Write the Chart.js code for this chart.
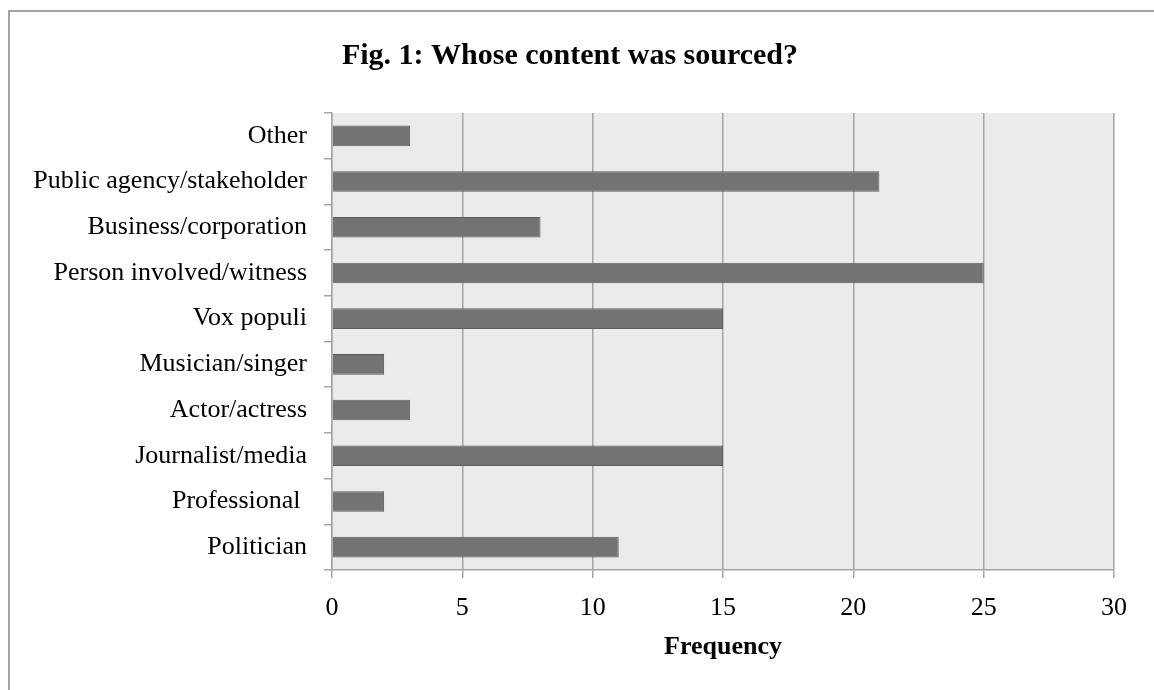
<!DOCTYPE html>
<html>
<head>
<meta charset="utf-8">
<script src="https://cdn.jsdelivr.net/npm/chart.js@4/dist/chart.umd.min.js"></script>
<style>
  html, body { margin: 0; padding: 0; background: #ffffff; overflow: hidden; }
  #wrap { position: relative; width: 1154px; height: 690px; }
  #frame {
    position: absolute; left: 8px; top: 10px; width: 1200px; height: 720px;
    border-top: 2px solid #a3a3a3; border-left: 2px solid #a3a3a3;
    pointer-events: none;
  }
  canvas { position: absolute; left: 0; top: 0; }
</style>
</head>
<body>
<div id="wrap">
  <canvas id="chart" width="1154" height="690"></canvas>
  <div id="frame"></div>
</div>
<script>
// Source categories, listed top to bottom
const categories = [
  'Other',
  'Public agency/stakeholder',
  'Business/corporation',
  'Person involved/witness',
  'Vox populi',
  'Musician/singer',
  'Actor/actress',
  'Journalist/media',
  'Professional ',
  'Politician'
];
// Frequency of sourced content per category
const frequencies = [3, 21, 8, 25, 15, 2, 3, 15, 2, 11];
// Frequency axis ticks
const xTicks = [0, 5, 10, 15, 20, 25, 30];

const serif = 'Liberation Serif';
const axisGrey = '#a5a5a5';

// Shades the plotting area behind the bars
const plotBackground = {
  id: 'plotBackground',
  beforeDraw(chart) {
    const { ctx, chartArea: a } = chart;
    ctx.save();
    ctx.fillStyle = '#ebebeb';
    ctx.fillRect(a.left, a.top, a.right - a.left, a.bottom - a.top);
    ctx.restore();
  }
};

new Chart(document.getElementById('chart'), {
  type: 'bar',
  data: {
    labels: categories,
    datasets: [{
      data: frequencies,
      backgroundColor: '#737373',
      borderColor: '#5c5c5c',
      borderWidth: 1,
      categoryPercentage: 1,
      barPercentage: 0.45
    }]
  },
  options: {
    indexAxis: 'y',
    responsive: false,
    animation: false,
    devicePixelRatio: 1,
    layout: { padding: { left: 26, right: 40, top: 0, bottom: 27 } },
    plugins: {
      legend: { display: false },
      tooltip: { enabled: false },
      title: {
        display: true,
        text: 'Fig. 1: Whose content was sourced?',
        color: '#000000',
        font: { family: serif, size: 30, weight: 'bold', lineHeight: 1.2 },
        padding: { top: 38, bottom: 39 }
      }
    },
    scales: {
      x: {
        min: 0,
        max: 30,
        afterBuildTicks(scale) { scale.ticks = xTicks.map(v => ({ value: v })); },
        afterFit(scale) { scale.height = 93; },
        grid: {
          color: axisGrey,
          lineWidth: 1.5,
          tickLength: 8,
          tickColor: axisGrey
        },
        border: { color: axisGrey, width: 1.5 },
        ticks: {
          color: '#000000',
          padding: 15,
          maxRotation: 0,
          font: { family: serif, size: 26 }
        },
        title: {
          display: true,
          text: 'Frequency',
          color: '#000000',
          padding: { top: 0, bottom: 0 },
          font: { family: serif, size: 26, weight: 'bold', lineHeight: 1.2 }
        }
      },
      y: {
        afterFit(scale) { scale.width = 306; },
        grid: {
          offset: true,
          drawOnChartArea: false,
          tickLength: 8,
          tickColor: axisGrey,
          lineWidth: 1.5
        },
        border: { color: axisGrey, width: 1.5 },
        ticks: {
          color: '#000000',
          padding: 17,
          autoSkip: false,
          font: { family: serif, size: 26 }
        }
      }
    }
  },
  plugins: [plotBackground]
});
</script>
</body>
</html>
